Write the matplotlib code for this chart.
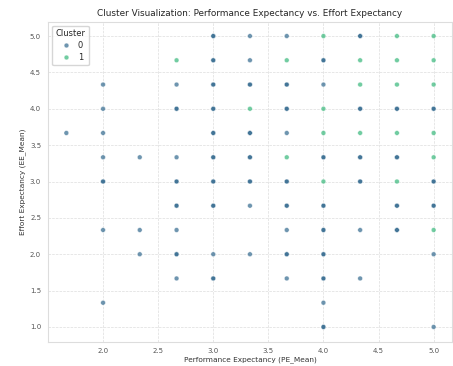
import pandas as pd
import seaborn as sns
import matplotlib
matplotlib.use("Agg")
import matplotlib.pyplot as plt

# cluster 0 points (repeated entries = several respondents on the same spot)
c0_pe = [3.0, 3.0, 3.333, 3.667, 4.333, 4.333,
         3.0, 3.0, 3.333, 4.0, 4.0,
         2.0, 2.667, 3.0, 3.0, 3.333, 3.333, 3.667, 3.667, 4.0,
         2.0, 2.667, 2.667, 3.0, 3.0, 3.667, 3.667, 4.333, 4.333, 4.667, 4.667, 5.0, 5.0,
         1.667, 2.0, 3.0, 3.0, 3.333, 3.333, 3.667,
         2.0, 2.333, 2.667, 3.0, 3.0, 3.333, 3.333, 4.0, 4.0, 4.333, 4.333, 4.667, 4.667,
         2.0, 2.0, 2.667, 2.667, 3.0, 3.0, 3.333, 3.333, 3.667, 3.667, 4.333, 4.333, 5.0, 5.0,
         2.667, 2.667, 3.0, 3.0, 3.333, 3.667, 3.667, 4.0, 4.0, 4.667, 4.667, 5.0, 5.0,
         2.0, 2.333, 2.667, 3.667, 4.0, 4.0, 4.333, 4.667, 4.667,
         2.333, 2.667, 2.667, 3.0, 3.333, 3.667, 3.667, 4.0, 4.0, 5.0,
         2.667, 3.0, 3.0, 3.667, 4.0, 4.0, 4.333,
         2.0, 4.0,
         4.0, 4.0, 5.0]
c0_ee = [5.0] * 6 + [4.667] * 5 + [4.333] * 9 + [4.0] * 13 + [3.667] * 7 \
    + [3.333] * 13 + [3.0] * 14 + [2.667] * 13 + [2.333] * 9 + [2.0] * 10 \
    + [1.667] * 7 + [1.333] * 2 + [1.0] * 3

# cluster 1 points
c1_pe = [4.0, 4.667, 5.0,
         2.667, 3.667, 4.333, 4.667, 5.0,
         4.333, 4.667, 5.0,
         3.333, 4.0,
         4.0, 4.333, 4.667, 5.0,
         3.667, 5.0,
         4.0, 4.667,
         5.0]
c1_ee = [5.0] * 3 + [4.667] * 5 + [4.333] * 3 + [4.0] * 2 + [3.667] * 4 \
    + [3.333] * 2 + [3.0] * 2 + [2.333] * 1

df = pd.DataFrame({
    "PE_Mean": c0_pe + c1_pe,
    "EE_Mean": c0_ee + c1_ee,
    "Cluster": [0] * len(c0_pe) + [1] * len(c1_pe),
})

sns.set_style("whitegrid")
fig, ax = plt.subplots(figsize=(4.53, 3.66), dpi=100)
fig.subplots_adjust(left=48 / 453, right=452 / 453, top=1 - 21.5 / 366, bottom=1 - 341.5 / 366)

sns.scatterplot(data=df, x="PE_Mean", y="EE_Mean", hue="Cluster",
                palette="viridis", alpha=0.7, s=12, linewidth=0.4, ax=ax)

ax.set_title("Cluster Visualization: Performance Expectancy vs. Effort Expectancy",
             fontsize=6.4, pad=4)
ax.set_xlabel("Performance Expectancy (PE_Mean)", fontsize=5.3, labelpad=1.5, color="#333333")
ax.set_ylabel("Effort Expectancy (EE_Mean)", fontsize=5.3, labelpad=3, color="#333333")
ax.tick_params(labelsize=5, pad=1.5, labelcolor="#555555")
ax.grid(True, linestyle="--", linewidth=0.5, color="#dddddd")
for sp in ax.spines.values():
    sp.set_color("#dddddd")
leg = ax.legend(title="Cluster", loc="upper left", fontsize=6, title_fontsize=6,
                markerscale=1.0, handletextpad=0.4, borderpad=0.4, labelspacing=0.35)

fig.savefig("out.png", dpi=100)
